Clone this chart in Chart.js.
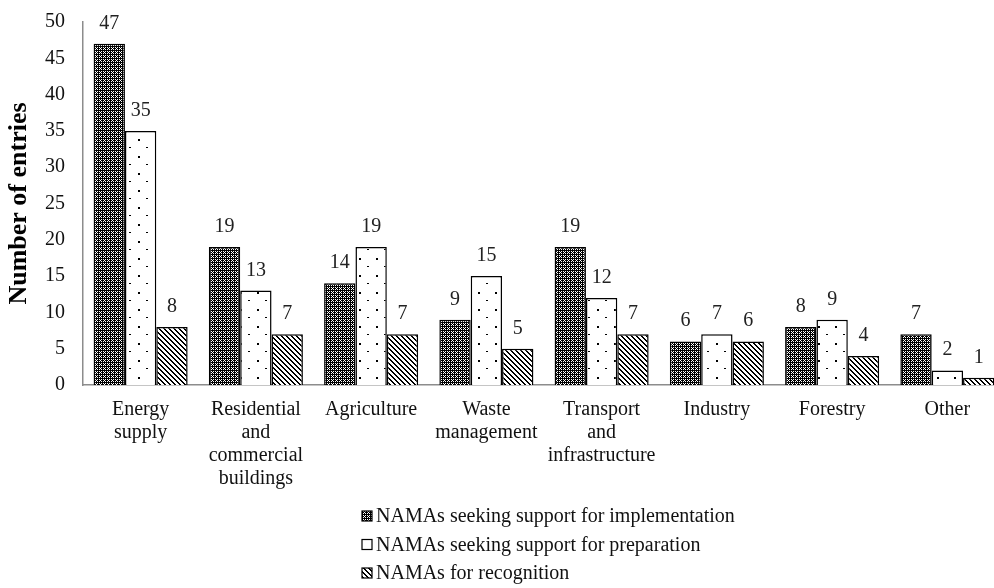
<!DOCTYPE html>
<html>
<head>
<meta charset="utf-8">
<script src="https://cdn.jsdelivr.net/npm/chart.js@4/dist/chart.umd.min.js"></script>
<style>
  html, body { margin: 0; padding: 0; background: #fff; overflow: hidden; }
  /* plot runs a little past the right edge, as in the original */
  #wrap { width: 994px; height: 588px; overflow: hidden; }
</style>
</head>
<body>
<div id="wrap"><canvas id="chart" width="1005" height="588"></canvas></div>
<script>
// chart data
const categories = [
  ["Energy", "supply"],
  ["Residential", "and", "commercial", "buildings"],
  "Agriculture",
  ["Waste", "management"],
  ["Transport", "and", "infrastructure"],
  "Industry",
  "Forestry",
  "Other",
];
const seriesNames = [
  "NAMAs seeking support for implementation",
  "NAMAs seeking support for preparation",
  "NAMAs for recognition",
];
const implementation = [47, 19, 14, 9, 19, 6, 8, 7];
const preparation = [35, 13, 19, 15, 12, 7, 9, 2];
const recognition = [8, 7, 7, 5, 7, 6, 4, 1];

const FONT = "'Liberation Serif', 'Times New Roman', serif";

function tile(w, h, draw) {
  const c = document.createElement("canvas");
  c.width = w;
  c.height = h;
  const ctx = c.getContext("2d");
  draw(ctx);
  return document.getElementById("chart").getContext("2d").createPattern(c, "repeat");
}

// dense checkered fill
const checkPattern = tile(4, 4, (ctx) => {
  ctx.fillStyle = "#000";
  ctx.fillRect(0, 0, 4, 4);
  ctx.fillStyle = "#fff";
  ctx.fillRect(1, 1, 1, 1);
  ctx.fillRect(3, 3, 1, 1);
  ctx.fillRect(3, 1, 1, 1);
  ctx.fillRect(1, 3, 1, 1);
  ctx.fillRect(0, 0, 1, 1);
});

// sparse staggered dots
const dotPattern = tile(17, 17, (ctx) => {
  ctx.fillStyle = "#fff";
  ctx.fillRect(0, 0, 17, 17);
  ctx.fillStyle = "#000";
  ctx.fillRect(2, 3, 2, 2);
  ctx.fillRect(10, 11, 2, 1);
});

// "\" diagonal hatching
const hatchPattern = tile(5, 5, (ctx) => {
  ctx.fillStyle = "#fff";
  ctx.fillRect(0, 0, 5, 5);
  ctx.fillStyle = "#000";
  for (let i = 0; i < 5; i++) {
    ctx.fillRect(i, i, 1, 1);
    ctx.fillRect((i + 1) % 5, i, 1, 1);
  }
});

const fills = [checkPattern, dotPattern, hatchPattern];

const valueLabels = {
  id: "valueLabels",
  afterDatasetsDraw(chart) {
    const ctx = chart.ctx;
    ctx.save();
    ctx.font = "20px " + FONT;
    ctx.fillStyle = "#222";
    ctx.textAlign = "center";
    ctx.textBaseline = "alphabetic";
    chart.data.datasets.forEach((ds, i) => {
      chart.getDatasetMeta(i).data.forEach((bar, j) => {
        ctx.fillText(String(ds.data[j]), bar.x, bar.y - 15);
      });
    });
    ctx.restore();
  },
};

const stackedLegend = {
  id: "stackedLegend",
  afterDraw(chart) {
    const ctx = chart.ctx;
    ctx.save();
    ctx.font = "20px " + FONT;
    ctx.textBaseline = "middle";
    chart.data.datasets.forEach((ds, i) => {
      const y = 516 + i * 28.5;
      ctx.fillStyle = ds.backgroundColor;
      ctx.fillRect(362, y - 5, 10, 10);
      ctx.strokeStyle = "#000";
      ctx.lineWidth = 1.2;
      ctx.strokeRect(362, y - 5, 10, 10);
      ctx.fillStyle = "#111";
      ctx.fillText(ds.label, 376, y + 1);
    });
    ctx.restore();
  },
};

new Chart(document.getElementById("chart"), {
  type: "bar",
  data: {
    labels: categories,
    datasets: [implementation, preparation, recognition].map((data, i) => ({
      label: seriesNames[i],
      data,
      backgroundColor: fills[i],
      borderColor: "#000",
      borderWidth: 1.5,
      categoryPercentage: 0.816,
      barPercentage: 1,
    })),
  },
  options: {
    responsive: false,
    animation: false,
    layout: { padding: { top: 22, right: 0 } },
    plugins: {
      legend: { display: false },
      tooltip: { enabled: false },
    },
    scales: {
      x: {
        grid: { display: false },
        border: { display: true, color: "#8c8c8c", width: 1.5 },
        ticks: {
          color: "#111",
          font: { family: FONT, size: 20, lineHeight: 1.15 },
          maxRotation: 0,
          autoSkip: false,
          padding: 5,
        },
        afterFit(scale) {
          scale.height = 203;
        },
      },
      y: {
        min: 0,
        max: 50,
        grid: { display: false },
        border: { display: true, color: "#8c8c8c", width: 1.5 },
        ticks: {
          stepSize: 5,
          color: "#111",
          font: { family: FONT, size: 20 },
          padding: 10,
        },
        title: {
          display: true,
          text: "Number of entries",
          color: "#000",
          font: { family: FONT, size: 26, weight: "bold" },
          padding: { top: 4, bottom: 0 },
        },
        afterFit(scale) {
          scale.width = 83;
        },
      },
    },
  },
  plugins: [valueLabels, stackedLegend],
});
</script>
</body>
</html>
